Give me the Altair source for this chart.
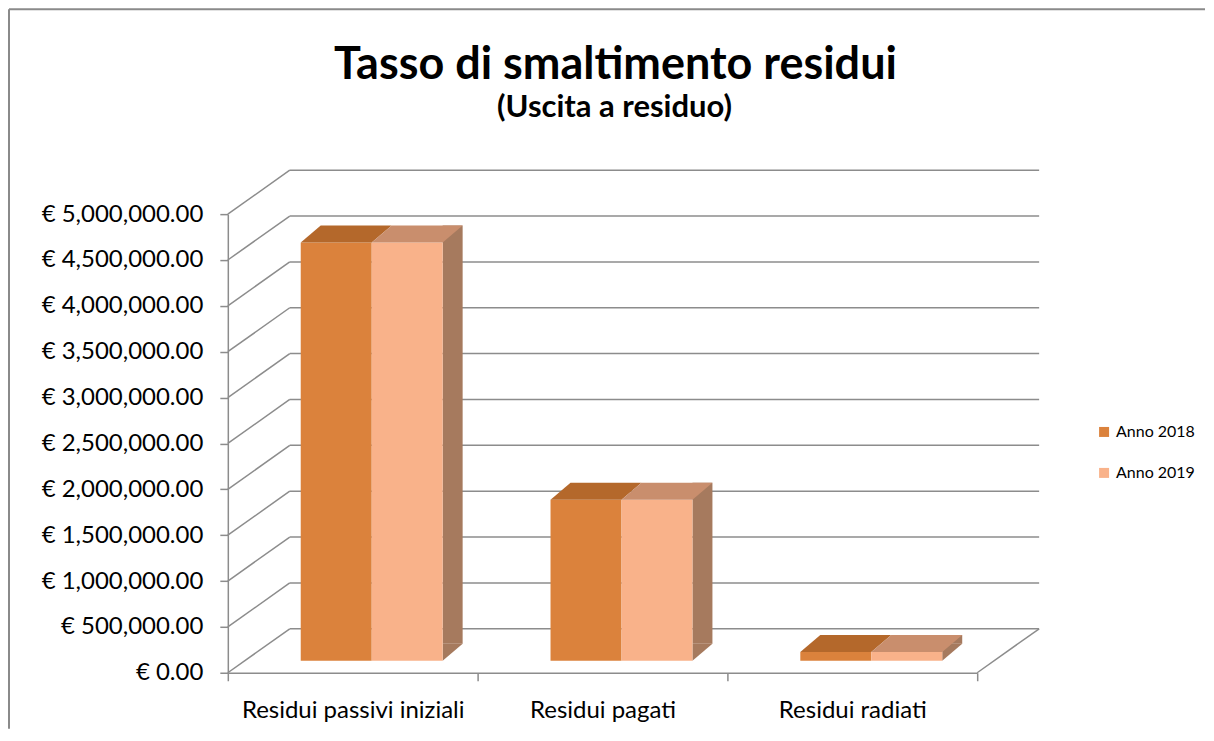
import altair as alt
import pandas as pd

# ---------------- data ----------------
categories = ["Residui passivi iniziali", "Residui pagati", "Residui radiati"]
years = ["Anno 2018", "Anno 2019"]
anno_2018 = [4560000, 1755000, 95000]
anno_2019 = [4560000, 1755000, 95000]
y_ticks = [0, 500000, 1000000, 1500000, 2000000, 2500000,
           3000000, 3500000, 4000000, 4500000, 5000000]
title_text = "Tasso di smaltimento residui"
subtitle_text = "(Uscita a residuo)"

# ---------------- style ----------------
front_colors = ["#DB823C", "#F9B28A"]
top_colors = ["#B4682B", "#C98E6D"]
side_color = "#A67A5E"
grid_c = "#8C8C8C"
FONT = "Lato"

W, H = 750, 459          # plot area
DX, DY = 62, -44         # depth of the back wall
BDX, BDY = 20, -17       # depth of each bar
LIFT = -12               # bar front face lifted from the front floor edge
PO, ALIGN = 0.76, 0.676  # sub-band placement of the two bars

BAND = W / len(categories)
STEP = BAND / (2 + 2 * PO)
LEFT = ALIGN * (2 * PO * STEP)
CENTERS = [LEFT + STEP / 2, LEFT + 1.5 * STEP]   # bar centres inside a band
RIGHT = LEFT + 2 * STEP
HS = STEP / 2

rows = []
for c, a, b in zip(categories, anno_2018, anno_2019):
    rows.append({"cat": c, "anno": years[0], "val": a})
    rows.append({"cat": c, "anno": years[1], "val": b})
df = pd.DataFrame(rows)
ticks_df = pd.DataFrame({"t": y_ticks})
one = pd.DataFrame({"k": [0]})

y_scale = alt.Scale(domain=[0, 5000000], nice=False, zero=True)
y_axis = alt.Axis(values=y_ticks, labelExpr="'€ ' + format(datum.value, ',.2f')",
                  title=None, grid=False, domainColor=grid_c, domainWidth=1.5,
                  tickColor=grid_c, tickWidth=1.5, tickSize=8, labelPadding=17,
                  labelFontSize=24, labelColor="#000000", labelFont=FONT)
x_axis = alt.Axis(title=None, domainColor=grid_c, domainWidth=1.5, tickColor=grid_c,
                  tickWidth=1.5, tickSize=8, tickBand="extent", labelPadding=18,
                  labelAngle=0, labelFontSize=24, labelColor="#000000", labelFont=FONT,
                  labelLimit=400, labelOverlap=False)

X = alt.X("cat:N", sort=categories, scale=alt.Scale(paddingInner=0, paddingOuter=0), axis=x_axis)
Yv = alt.Y("val:Q", scale=y_scale, axis=y_axis)
Yt = alt.Y("t:Q", scale=y_scale, axis=y_axis)

xo_front = alt.XOffset("anno:N", sort=years,
                       scale=alt.Scale(domain=years, paddingInner=0, paddingOuter=PO, align=ALIGN))

# walls / grid
diag = alt.Chart(ticks_df).mark_rule(color=grid_c, strokeWidth=1.5, y2Offset=DY).encode(
    x=alt.value(0), x2=alt.value(DX), y=Yt, y2="t:Q")
back = alt.Chart(ticks_df).mark_rule(color=grid_c, strokeWidth=1.5, yOffset=DY).encode(
    x=alt.value(DX), x2=alt.value(W + DX), y=Yt)
floor_r = alt.Chart(ticks_df).transform_filter("datum.t == 0").mark_rule(
    color=grid_c, strokeWidth=1.5, y2Offset=DY).encode(
    x=alt.value(W), x2=alt.value(W + DX), y=Yt, y2="t:Q")

df19 = alt.Chart(df).transform_filter(alt.datum.anno == years[1])

# side face of the rightmost bar
side = df19.mark_rule(color=side_color, strokeWidth=BDX, strokeCap="butt",
                      xOffset=RIGHT + BDX / 2 - BAND / 2,
                      yOffset=LIFT + BDY, y2Offset=LIFT + BDY).encode(
    x=X, y=Yv, y2=alt.datum(0))
side_bot = df19.mark_point(
    shape=f"M{-BDX/2} {BDY/2} L{-BDX/2} {-BDY/2} L{BDX/2} {BDY/2} Z",
    size=4, filled=True, opacity=1, strokeWidth=0, color=side_color,
    xOffset=RIGHT + BDX / 2 - BAND / 2, yOffset=LIFT + BDY / 2).encode(
    x=X, y=alt.datum(0, scale=y_scale))

# front faces (with legend)
front = alt.Chart(df).mark_bar(yOffset=LIFT, y2Offset=LIFT).encode(
    x=X, xOffset=xo_front, y=Yv, y2=alt.datum(0),
    color=alt.Color("anno:N", sort=years,
                    scale=alt.Scale(domain=years, range=front_colors),
                    legend=alt.Legend(title=None, orient="none", legendX=869, legendY=210,
                                      symbolType="square", symbolSize=100, symbolStrokeWidth=0,
                                      labelFontSize=16, labelFont=FONT, labelColor="#000000",
                                      labelOffset=4, rowPadding=25)))

# top faces: parallelogram symbol centred on its own box
top_path = (f"M{-HS - BDX/2} {-BDY/2} L{HS - BDX/2} {-BDY/2} "
            f"L{HS + BDX/2} {BDY/2} L{-HS + BDX/2} {BDY/2} Z")
tops = []
for i, yr in enumerate(years):
    tops.append(
        alt.Chart(df).transform_filter(alt.datum.anno == yr).mark_point(
            shape=top_path, size=4, filled=True, opacity=1, strokeWidth=0,
            color=top_colors[i],
            xOffset=CENTERS[i] + BDX / 2 - BAND / 2, yOffset=LIFT + BDY / 2).encode(
            x=X, y=Yv))

# titles as text marks
title = alt.Chart(one).mark_text(text=title_text, fontSize=45, fontWeight="bold", font=FONT,
                                 color="#000000", align="center", baseline="middle").encode(
    x=alt.value(388), y=alt.value(-149))
subtitle = alt.Chart(one).mark_text(text=subtitle_text, fontSize=31, fontWeight="bold", font=FONT,
                                    color="#000000", align="center", baseline="middle").encode(
    x=alt.value(387), y=alt.value(-106))

# chart border (top and left edges visible)
border_top = alt.Chart(one).mark_rule(color="#8A8A8A", strokeWidth=2).encode(
    x=alt.value(-219), x2=alt.value(978), y=alt.value(-205))
border_left = alt.Chart(one).mark_rule(color="#8A8A8A", strokeWidth=2).encode(
    x=alt.value(-219), y=alt.value(-205), y2=alt.value(515))

chart = alt.layer(
    border_top, border_left, title, subtitle,
    diag, back, floor_r,
    side, side_bot, front, *tops
).properties(
    width=W, height=H, padding=0
).configure_view(strokeWidth=0)

chart.save("out.html", embed_options={"renderer": "svg", "actions": False})
